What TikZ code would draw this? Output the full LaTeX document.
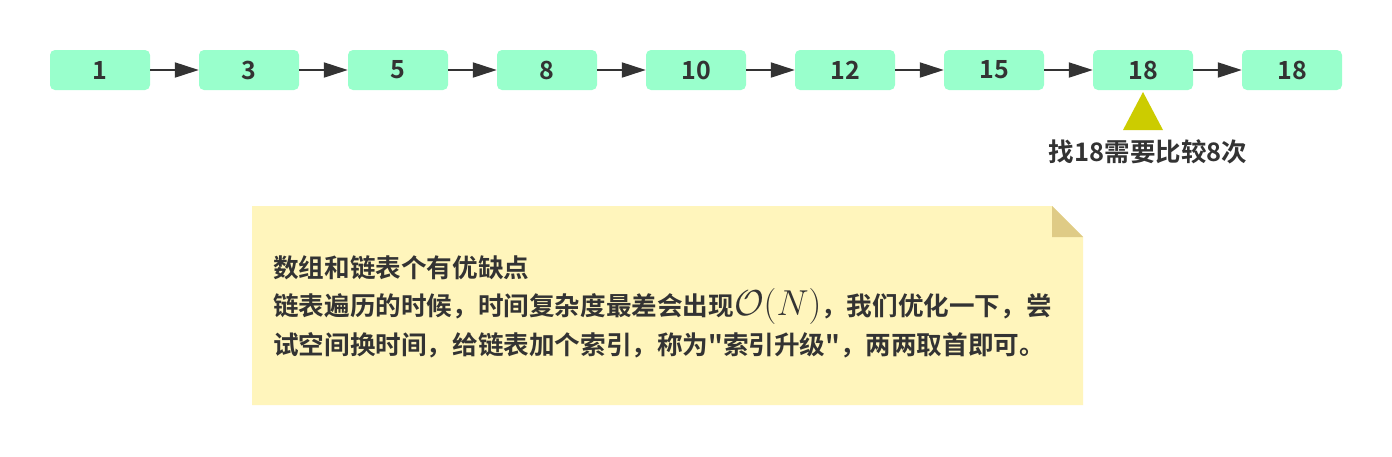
\documentclass[tikz,border=0pt]{standalone}
\usepackage{fontspec}
\usetikzlibrary{arrows.meta}
\newfontfamily\cjk{Noto Sans CJK SC}[BoldFont={Noto Sans CJK SC Bold}]
\definecolor{boxfill}{HTML}{99FFCC}
\definecolor{ink}{HTML}{333333}
\definecolor{notefill}{HTML}{FFF5BC}
\definecolor{foldfill}{HTML}{DFCB86}
\definecolor{marker}{HTML}{CCCC00}
\tikzset{
  listnode/.style={fill=boxfill, rounded corners=5pt, minimum width=100pt, minimum height=40pt,
    inner sep=0pt, text=ink, font=\cjk\bfseries\fontsize{25pt}{25pt}\selectfont},
  link/.style={draw=ink, line width=2pt, -{Triangle[length=24pt,width=15pt]}},
  notetext/.style={anchor=base west, inner sep=0pt, text=ink, font=\cjk\bfseries\fontsize{25.6pt}{28pt}\selectfont}
}
\newcommand{\bigON}{\scalebox{1.45}{$\mathcal{O}(N)$}}
\begin{document}
\begin{tikzpicture}[x=1pt,y=-1pt]
\path[fill=white] (0,0) rectangle (1392,456);
\useasboundingbox (0,0) rectangle (1392,456);
\foreach \v [count=\i] in {1,3,5,8,10,12,15,18,18} {
  \node[listnode] (n\i) at ({100+149*(\i-1)},70) {\v};
}
\foreach \i [evaluate=\i as \j using int(\i+1)] in {1,...,8} {
  \draw[link] (n\i.east) -- (n\j.west);
}
% marker triangle
\fill[marker] (1143,92) -- (1163,130) -- (1123,130) -- cycle;
\node[text=ink, inner sep=0pt, anchor=base, font=\cjk\bfseries\fontsize{25.5pt}{26pt}\selectfont] (lbl) at (1148,161) {找18需要比较8次};
% note
\fill[notefill] (252,206) -- (1052,206) -- (1083,237) -- (1083,405) -- (252,405) -- cycle;
\fill[foldfill] (1052,206) -- (1083,237) -- (1052,237) -- cycle;
\node[notetext] (l1) at (273,277) {数组和链表个有优缺点};
\node[notetext] (l2) at (273,315) {链表遍历的时候，时间复杂度最差会出现\bigON，我们优化一下，尝};
\node[notetext] (l3) at (273,354) {试空间换时间，给链表加个索引，称为"索引升级"，两两取首即可。};
\end{tikzpicture}
\end{document}
